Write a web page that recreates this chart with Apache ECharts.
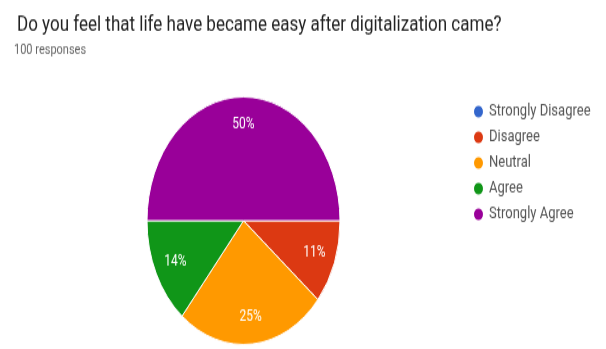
<!DOCTYPE html>
<html>
<head>
<meta charset="utf-8">
<script src="https://cdn.jsdelivr.net/npm/echarts@6/dist/echarts.min.js"></script>
<style>
  html, body { margin: 0; padding: 0; background: #fff; overflow: hidden; }
  #wrap { width: 606px; height: 349px; overflow: hidden; }
  /* Chart is laid out on a shorter canvas and stretched vertically */
  #chart { width: 606px; height: 272px; transform: scaleY(1.2831); transform-origin: 0 0; }
</style>
</head>
<body>
<div id="wrap"><div id="chart"></div></div>
<script>
const questionTitle = 'Do you feel that life have became easy after digitalization came?';
const responseNote = '100 responses';
const answers = ['Strongly Disagree', 'Disagree', 'Neutral', 'Agree', 'Strongly Agree'];
const responses = [0, 11, 25, 14, 50];
const palette = ['#3366cc', '#dc3912', '#ff9900', '#109618', '#990099'];

const slices = answers.map((name, i) => ({ name: name, value: responses[i] }));
const pctLabel = p => (p.value ? Math.round(p.percent) + '%' : '');

const chart = echarts.init(document.getElementById('chart'), null, { renderer: 'canvas' });
chart.setOption({
  animation: false,
  backgroundColor: '#fff',
  color: palette,
  title: [
    {
      text: questionTitle, left: 12, top: 6,
      textStyle: { fontFamily: 'Roboto', fontSize: 17, fontWeight: 'normal', color: '#222' }
    },
    {
      text: responseNote, left: 9, top: 29,
      textStyle: { fontFamily: 'Roboto', fontSize: 11, fontWeight: 'normal', color: '#666' }
    }
  ],
  legend: {
    orient: 'vertical', left: 467, top: 75,
    data: answers,
    icon: 'circle', itemWidth: 11, itemHeight: 11, itemGap: 6,
    textStyle: { fontFamily: 'Roboto', fontSize: 13, color: '#555', lineHeight: 14 }
  },
  series: [
    {
      type: 'pie', center: [243.5, 172], radius: 96.5, startAngle: 0, clockwise: true,
      data: slices,
      itemStyle: { borderColor: '#fff', borderWidth: 1 },
      label: { show: false }, labelLine: { show: false },
      emphasis: { disabled: true }
    },
    {
      // clear ring that only carries the percentage labels
      type: 'pie', center: [243.5, 172], radius: [48, 96.5], startAngle: 0, clockwise: true,
      data: slices, silent: true,
      itemStyle: { color: 'rgba(0,0,0,0)', borderWidth: 0 },
      label: { show: true, position: 'inside', formatter: pctLabel,
               fontFamily: 'Roboto', fontSize: 12, color: '#fff' },
      labelLine: { show: false },
      emphasis: { disabled: true }
    }
  ]
});
</script>
</body>
</html>
